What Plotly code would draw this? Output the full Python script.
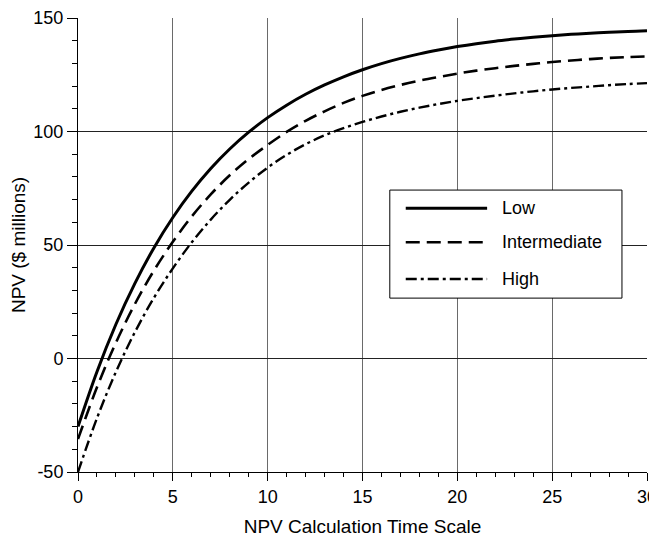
"""
NPV vs. NPV calculation time scale for three scenarios (plotly).
"""

import plotly.graph_objects as go

# Horizonte de cálculo (anos)
anos = list(range(0, 31))

# NPV ($ millions), por cenário
npv_low = [
    -30.0, -5.8, 15.1, 33.1, 48.7, 62.1, 73.7, 83.7, 92.3, 99.7, 106.1,
    111.6, 116.4, 120.5, 124.1, 127.2, 129.9, 132.2, 134.2, 135.9, 137.4,
    138.7, 139.8, 140.7, 141.5, 142.2, 142.8, 143.3, 143.7, 144.1, 144.4,
]
npv_intermediate = [
    -35.5, -12.7, 7.0, 24.0, 38.7, 51.4, 62.6, 72.3, 80.7, 87.9, 94.1,
    99.8, 104.7, 108.9, 112.6, 115.7, 118.3, 120.5, 122.4, 124.0, 125.5,
    126.8, 127.9, 128.9, 129.8, 130.6, 131.3, 131.9, 132.4, 132.8, 133.1,
]
npv_high = [
    -50.0, -26.3, -5.9, 11.6, 26.7, 39.7, 51.2, 61.2, 69.9, 77.5, 84.1,
    89.7, 94.4, 98.3, 101.5, 104.2, 106.6, 108.7, 110.5, 112.1, 113.5,
    114.7, 115.8, 116.8, 117.7, 118.5, 119.2, 119.8, 120.4, 120.9, 121.3,
]

nomes = ["Low", "Intermediate", "High"]
series = [npv_low, npv_intermediate, npv_high]

x_ticks = [0, 5, 10, 15, 20, 25, 30]
y_ticks = [-50, 0, 50, 100, 150]
y_labels = ["-50", "0", "50", "100", "150"]

FONTE = "Liberation Sans, Arial, sans-serif"
ESTILOS = {
    "Low": dict(width=3, dash="solid"),
    "Intermediate": dict(width=2.6, dash="14px,7px"),
    "High": dict(width=2.4, dash="11px,4px,3px,4px"),
}

fig = go.Figure()
for nome, valores in zip(nomes, series):
    fig.add_trace(go.Scatter(
        x=anos, y=valores, name=nome, mode="lines",
        line=dict(color="black", shape="spline", **ESTILOS[nome]),
        showlegend=False,
    ))

# Legenda desenhada à mão (amostras de linha mais longas, como no original)
leg_x0, leg_x1 = 0.548, 0.956
leg_y0, leg_y1 = 0.383, 0.621
fig.add_shape(type="rect", xref="paper", yref="paper",
              x0=leg_x0, x1=leg_x1, y0=leg_y0, y1=leg_y1,
              line=dict(color="black", width=1), fillcolor="white", layer="above")
for nome, yy in zip(nomes, [0.581, 0.506, 0.425]):
    fig.add_shape(type="line", xref="paper", yref="paper",
                  x0=0.576, x1=0.719, y0=yy, y1=yy,
                  line=dict(color="black", **ESTILOS[nome]), layer="above")
    fig.add_annotation(xref="paper", yref="paper", x=0.741, y=yy,
                       text=nome, showarrow=False, xanchor="left", yanchor="middle",
                       font=dict(family=FONTE, size=18, color="black"))

# A página tem margem de 8px no body: figura um pouco menor que a janela
fig.update_layout(
    width=649, height=529,
    margin=dict(l=70, r=10, t=10, b=65),
    plot_bgcolor="white", paper_bgcolor="white",
    font=dict(family=FONTE, size=16, color="black"),
)
fig.update_xaxes(
    range=[0, 30], tickvals=x_ticks, automargin=False,
    tickfont=dict(size=18), ticklabeloverflow="allow",
    showline=True, linecolor="black", linewidth=1,
    ticks="outside", ticklen=8, tickcolor="black",
    minor=dict(dtick=1, ticks="outside", ticklen=4, tickcolor="black", showgrid=False),
    showgrid=True, gridcolor="#6a6a6a", gridwidth=1, zeroline=False,
    title=dict(text="NPV Calculation Time Scale", standoff=23),
)
fig.update_yaxes(
    range=[-50, 150], tickvals=y_ticks, ticktext=y_labels, automargin=False,
    tickfont=dict(size=18),
    showline=True, linecolor="black", linewidth=1,
    ticks="outside", ticklen=10, tickcolor="black",
    minor=dict(dtick=10, ticks="outside", ticklen=5, tickcolor="black", showgrid=False),
    showgrid=True, gridcolor="#222222", gridwidth=1, zeroline=False,
    title=dict(text="NPV ($ millions)", standoff=4),
)

fig.write_html("out.html")
